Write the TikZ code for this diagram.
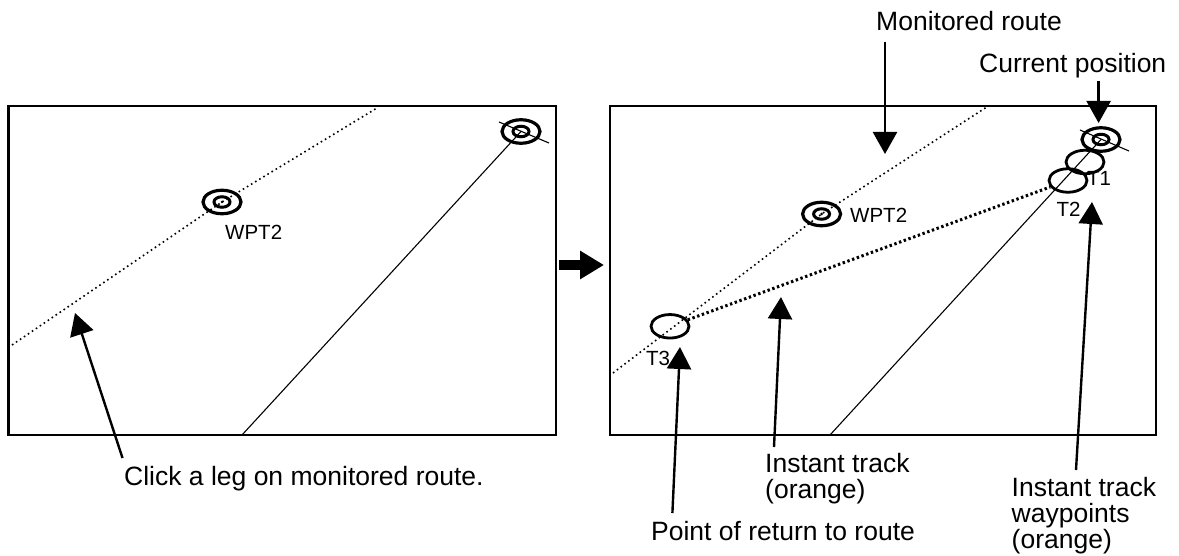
\documentclass[tikz,border=0pt]{standalone}
\usepackage{fontspec}
\setmainfont{Liberation Sans}
\usetikzlibrary{arrows.meta,positioning,shapes.geometric,calc}

\tikzset{
  screen/.style={draw,line width=2.6pt},
  ring/.style={draw,ellipse,line width=3.2pt,inner sep=0pt,minimum width=38pt,minimum height=23.5pt},
  ringin/.style={draw,ellipse,line width=3pt,inner sep=0pt,minimum width=16pt,minimum height=10.5pt},
  tpt/.style={draw,ellipse,line width=2.8pt,inner sep=0pt,minimum width=38pt,minimum height=23.5pt},
  route/.style={line width=1.6pt,dash pattern=on 1.6pt off 3.2pt},
  itrack/.style={line width=3pt,dash pattern=on 2.4pt off 2.6pt},
  ownline/.style={line width=1.1pt},
  callout/.style={line width=2.4pt,-{Triangle[length=22pt,width=24pt]}},
  lbl/.style={font=\fontsize{26.5}{26}\selectfont,inner sep=0pt,align=left},
  tag/.style={font=\fontsize{20.5}{22}\selectfont,inner sep=0pt},
}

\begin{document}
\begin{tikzpicture}[x=1pt,y=-1pt]
  \useasboundingbox (0,0) rectangle (1179,556);

  % screen before
  \draw[screen] (8.5,106) rectangle (556,435);
  \coordinate (rA1) at (12,345);
  \coordinate (rA3) at (377,108);
  \node[ring] (wptA) at (222,202) {};
  \node[ringin] at (wptA) {};
  \fill (wptA) circle (1.4pt);
  \draw[route] (rA1) -- (wptA.center) -- (rA3);
  \node[tag,anchor=base west] (wptAlbl) at (225,240) {WPT2};
  \node[ring] (ownA) at (521,131.5) {};
  \node[ringin] at (ownA) {};
  \coordinate (hdA1) at (499,122);
  \coordinate (hdA2) at (549,143);
  \draw[ownline] (hdA1) -- (hdA2);
  \coordinate (trkA) at (242,435);
  \draw[ownline] (trkA) -- (ownA.center);

  % arrow between screens
  \coordinate (goA) at (559,265);
  \coordinate (goB) at (604,265);
  \draw[line width=10pt,-{Triangle[length=24pt,width=27pt]}] (goA) -- (goB);

  % screen after
  \draw[screen] (610,106) rectangle (1156,435);
  \coordinate (rB1) at (613,373);
  \coordinate (rB3) at (986,107.5);
  \node[ring] (wptB) at (821.6,214) {};
  \node[ringin] at (wptB) {};
  \fill (wptB) circle (1.4pt);
  \draw[route] (rB1) -- (wptB.center) -- (rB3);
  \node[tag,anchor=base west] (wptBlbl) at (850,222.5) {WPT2};
  \node[ring] (ownB) at (1101,139.5) {};
  \node[ringin] at (ownB) {};
  \coordinate (hdB1) at (1080,130);
  \coordinate (hdB2) at (1129,151);
  \draw[ownline] (hdB1) -- (hdB2);
  \node[tpt] (tT1) at (1085,162) {};
  \node[tpt] (tT2) at (1068,180.5) {};
  \node[tpt] (tT3) at (670,326.3) {};
  \draw[itrack] (tT3) -- (tT2);
  \coordinate (trkB) at (830,435);
  \draw[ownline] (trkB) -- (ownB.center);
  \node[tag,anchor=base west] (lblT1) at (1087,186) {T1};
  \node[tag,anchor=base west] (lblT2) at (1056.5,217) {T2};
  \node[tag,anchor=base west] (lblT3) at (646,366) {T3};

  % labels and callouts
  \node[lbl,anchor=base west] (txtRoute) at (876,31) {Monitored route};
  \node[lbl,anchor=base west] (txtOwn) at (979,72.5) {Current position};
  \node[lbl,anchor=base west] (txtClick) at (124,485) {Click a leg on monitored route.};
  \node[lbl,anchor=north west] (txtTrack) at (765,452.7) {Instant track\\(orange)};
  \node[lbl,anchor=north west] (txtWpts) at (1011.5,476.7) {Instant track\\waypoints\\(orange)};
  \node[lbl,anchor=base west] (txtReturn) at (651,540) {Point of return to route};

  \coordinate (tailClick) at (122.5,458);
  \coordinate (tailRoute) at (885,42);
  \coordinate (tailOwn) at (1098.6,81);
  \coordinate (tailTrack) at (774,447);
  \coordinate (tailWpts) at (1076,470);
  \coordinate (tailReturn) at (672.4,513);
  \coordinate (tipClick) at (75,313);
  \coordinate (tipRoute) at (885,154);
  \coordinate (tipOwn) at (1098.6,123);
  \coordinate (tipTrack) at (781,297);
  \coordinate (tipWpts) at (1092,202);
  \coordinate (tipReturn) at (680,347);
  \draw[callout] (tailClick) -- (tipClick);
  \draw[callout] (tailRoute) -- (tipRoute);
  \draw[callout] (tailOwn) -- (tipOwn);
  \draw[callout] (tailTrack) -- (tipTrack);
  \draw[callout] (tailWpts) -- (tipWpts);
  \draw[callout] (tailReturn) -- (tipReturn);
\end{tikzpicture}
\end{document}
